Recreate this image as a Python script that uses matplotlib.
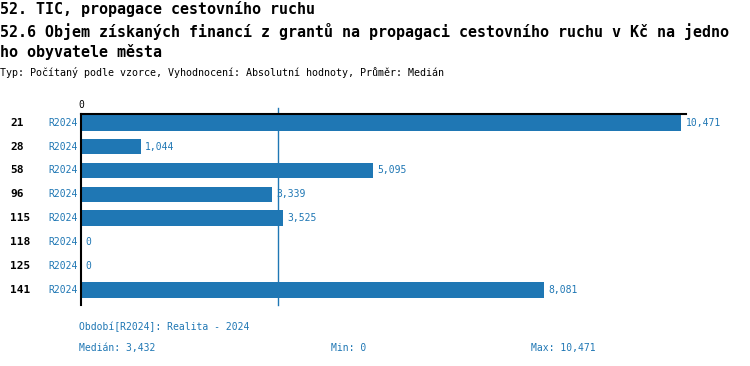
import matplotlib.pyplot as plt
import matplotlib.transforms as mtransforms

ids = ['21', '28', '58', '96', '115', '118', '125', '141']
period = 'R2024'
values = [10471, 1044, 5095, 3339, 3525, 0, 0, 8081]
median = 3432
vmin = 0
vmax = 10471

title1 = '52. TIC, propagace cestovního ruchu'
title2 = '52.6 Objem získaných financí z grantů na propagaci cestovního ruchu v Kč na jedno'
title3 = 'ho obyvatele města'
subtitle = 'Typ: Počítaný podle vzorce, Vyhodnocení: Absolutní hodnoty, Průměr: Medián'
footer1 = 'Období[R2024]: Realita - 2024'

blue = '#1f77b4'
W, H = 750, 366
plt.rcParams['font.family'] = ['DejaVu Sans Mono']

fig = plt.figure(figsize=(W / 100, H / 100), dpi=100)
ax = fig.add_axes([81 / W, 1 - 305 / H, (686 - 81) / W, (305 - 114) / H])

y = list(range(len(values)))
ax.barh(y, values, height=0.66, color=blue)
ax.set_ylim(7.62, -0.36)
ax.set_xlim(0, vmax * 1.008)

for s in ['right', 'bottom']:
    ax.spines[s].set_visible(False)
ax.spines['top'].set_linewidth(1.5)
ax.spines['left'].set_linewidth(1.5)
ax.set_yticks([])
ax.xaxis.tick_top()
ax.set_xticks([0])
ax.set_xticklabels(['0'], fontsize=7)
ax.tick_params(axis='x', length=0, pad=3)

ax.axvline(median, ymin=0, ymax=1.03, color=blue, lw=1, clip_on=False)

# value labels next to bars
off = mtransforms.offset_copy(ax.transData, fig=fig, x=3, y=0, units='points')
for yi, v in zip(y, values):
    ax.text(v, yi, f'{v:,}', transform=off, fontsize=7, color=blue,
            va='center', ha='left')

# row labels left of axis
tr = mtransforms.blended_transform_factory(fig.transFigure, ax.transData)
for yi, name in zip(y, ids):
    ax.text(10 / W, yi, name, transform=tr, fontsize=8, fontweight='bold',
            va='center', ha='left', color='black')
    ax.text(78 / W, yi, period, transform=tr, fontsize=7, color=blue,
            va='center', ha='right')

fig.text(0, 1 - 9 / H, title1, fontsize=10.8, fontweight='bold',
         va='center', ha='left')
fig.text(0, 1 - 31 / H, title2, fontsize=10.8, fontweight='bold',
         va='center', ha='left')
fig.text(0, 1 - 52 / H, title3, fontsize=10.8, fontweight='bold',
         va='center', ha='left')
fig.text(0, 1 - 72 / H, subtitle, fontsize=7.2, va='center', ha='left')

fig.text(79 / W, 1 - 327 / H, footer1, fontsize=7, color=blue, va='center')
fig.text(79 / W, 1 - 348 / H, f'Medián: {median:,}', fontsize=7, color=blue,
         va='center')
fig.text(331 / W, 1 - 348 / H, f'Min: {vmin:,}', fontsize=7, color=blue,
         va='center')
fig.text(531 / W, 1 - 348 / H, f'Max: {vmax:,}', fontsize=7, color=blue,
         va='center')

fig.savefig('out.png', dpi=100)
